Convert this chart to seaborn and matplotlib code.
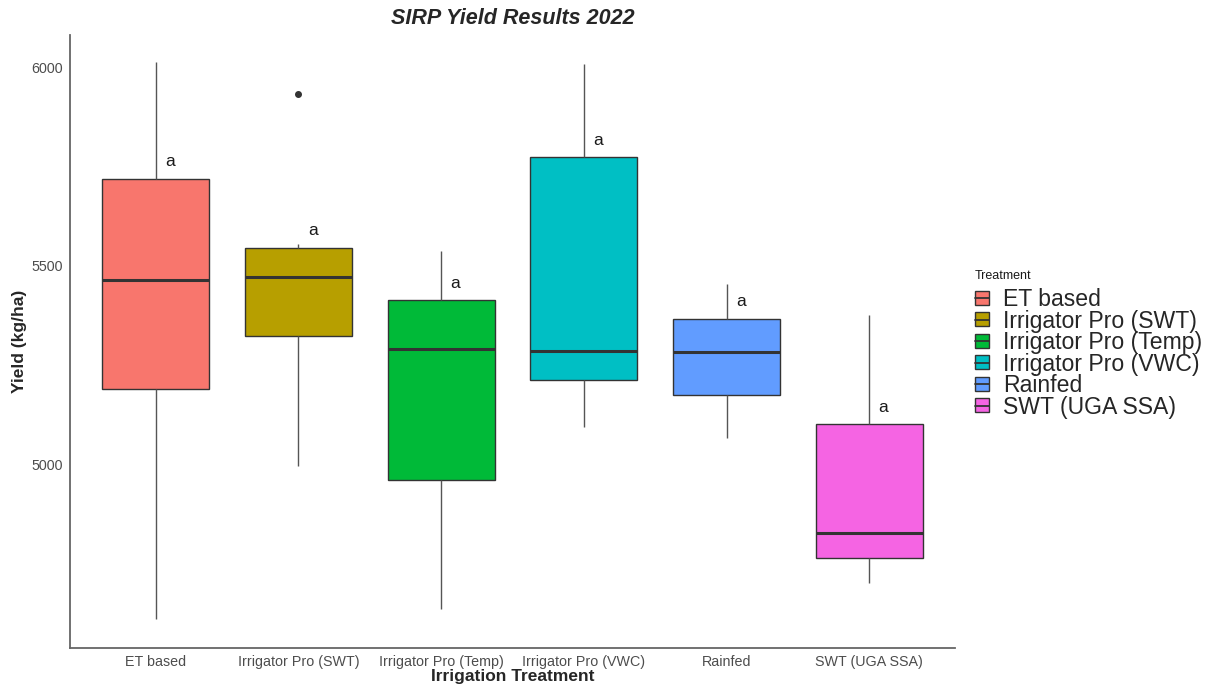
import pandas as pd
import matplotlib.pyplot as plt
import seaborn as sns
from matplotlib.patches import Patch
from matplotlib.lines import Line2D

treatments = ["ET based", "Irrigator Pro (SWT)", "Irrigator Pro (Temp)",
              "Irrigator Pro (VWC)", "Rainfed", "SWT (UGA SSA)"]
et_based = [4608, 5190, 5465, 5720, 6013]
pro_swt = [4996, 5289, 5426, 5518, 5554, 5934]
pro_temp = [4635, 4961, 5290, 5413, 5538]
pro_vwc = [5094, 5212, 5285, 5774, 6008]
rainfed = [5067, 5174, 5282, 5367, 5453]
uga_ssa = [4699, 4762, 4826, 5100, 5376]
letters = ["a", "a", "a", "a", "a", "a"]
colors = ["#F8766D", "#B79F00", "#00BA38", "#00BFC4", "#619CFF", "#F564E3"]

groups = [et_based, pro_swt, pro_temp, pro_vwc, rainfed, uga_ssa]
df = pd.DataFrame({
    "Treatment": [t for t, g in zip(treatments, groups) for _ in g],
    "Yield": [v for g in groups for v in g],
})

sns.set_style("white")
plt.rcParams["font.family"] = ["Liberation Sans", "DejaVu Sans"]

fig = plt.figure(figsize=(12.09, 6.89), dpi=100)
ax = fig.add_axes([0.0579, 0.0595, 0.732, 0.8895])

edge = "#333333"
sns.boxplot(data=df, x="Treatment", y="Yield", hue="Treatment", order=treatments,
            hue_order=treatments, palette=colors, width=0.75, linewidth=1.0,
            showcaps=False, legend=False, saturation=1, ax=ax,
            boxprops=dict(edgecolor=edge),
            whiskerprops=dict(color="#555555"),
            medianprops=dict(color=edge, linewidth=2.2),
            flierprops=dict(marker="o", markerfacecolor=edge, markeredgecolor=edge,
                            markersize=4))

# significance letters just above each box
q3 = df.groupby("Treatment")["Yield"].quantile(0.75)
for i, t in enumerate(treatments):
    ax.text(i + 0.1, q3[t] + 32, letters[i], ha="center", va="baseline",
            fontsize=12.5, color="#1a1a1a")

ax.set_xlim(-0.6, 5.6)
ax.set_ylim(4536, 6082)
ax.set_yticks([5000, 5500, 6000])
ax.tick_params(axis="both", colors="#666666", labelcolor="#4D4D4D",
               labelsize=10.3, length=3, width=1, pad=2)
for s in ["top", "right"]:
    ax.spines[s].set_visible(False)
for s in ["left", "bottom"]:
    ax.spines[s].set_color("#666666")
    ax.spines[s].set_linewidth(1.3)

ax.set_title("SIRP Yield Results 2022", fontsize=15.5, fontweight="bold",
             fontstyle="italic", pad=8)
ax.set_xlabel("Irrigation Treatment", fontsize=12.5, fontweight="bold", labelpad=0)
ax.set_ylabel("Yield (kg/ha)", fontsize=12.5, fontweight="bold", labelpad=3)

# legend: small box glyph with a median line
handles = [(Patch(facecolor=c, edgecolor=edge, linewidth=1),
            Line2D([], [], color=edge, linewidth=1.3)) for c in colors]
fig.text(0.8065, 0.599, "Treatment", fontsize=9, color="#1a1a1a", va="center")
fig.legend(handles, treatments, loc="upper left",
           bbox_to_anchor=(0.8065, 0.582), frameon=False, fontsize=16.6,
           handlelength=0.6, handleheight=0.55, handletextpad=0.6,
           labelspacing=-0.065, borderaxespad=0, borderpad=0)

fig.savefig("out.png", dpi=100)
